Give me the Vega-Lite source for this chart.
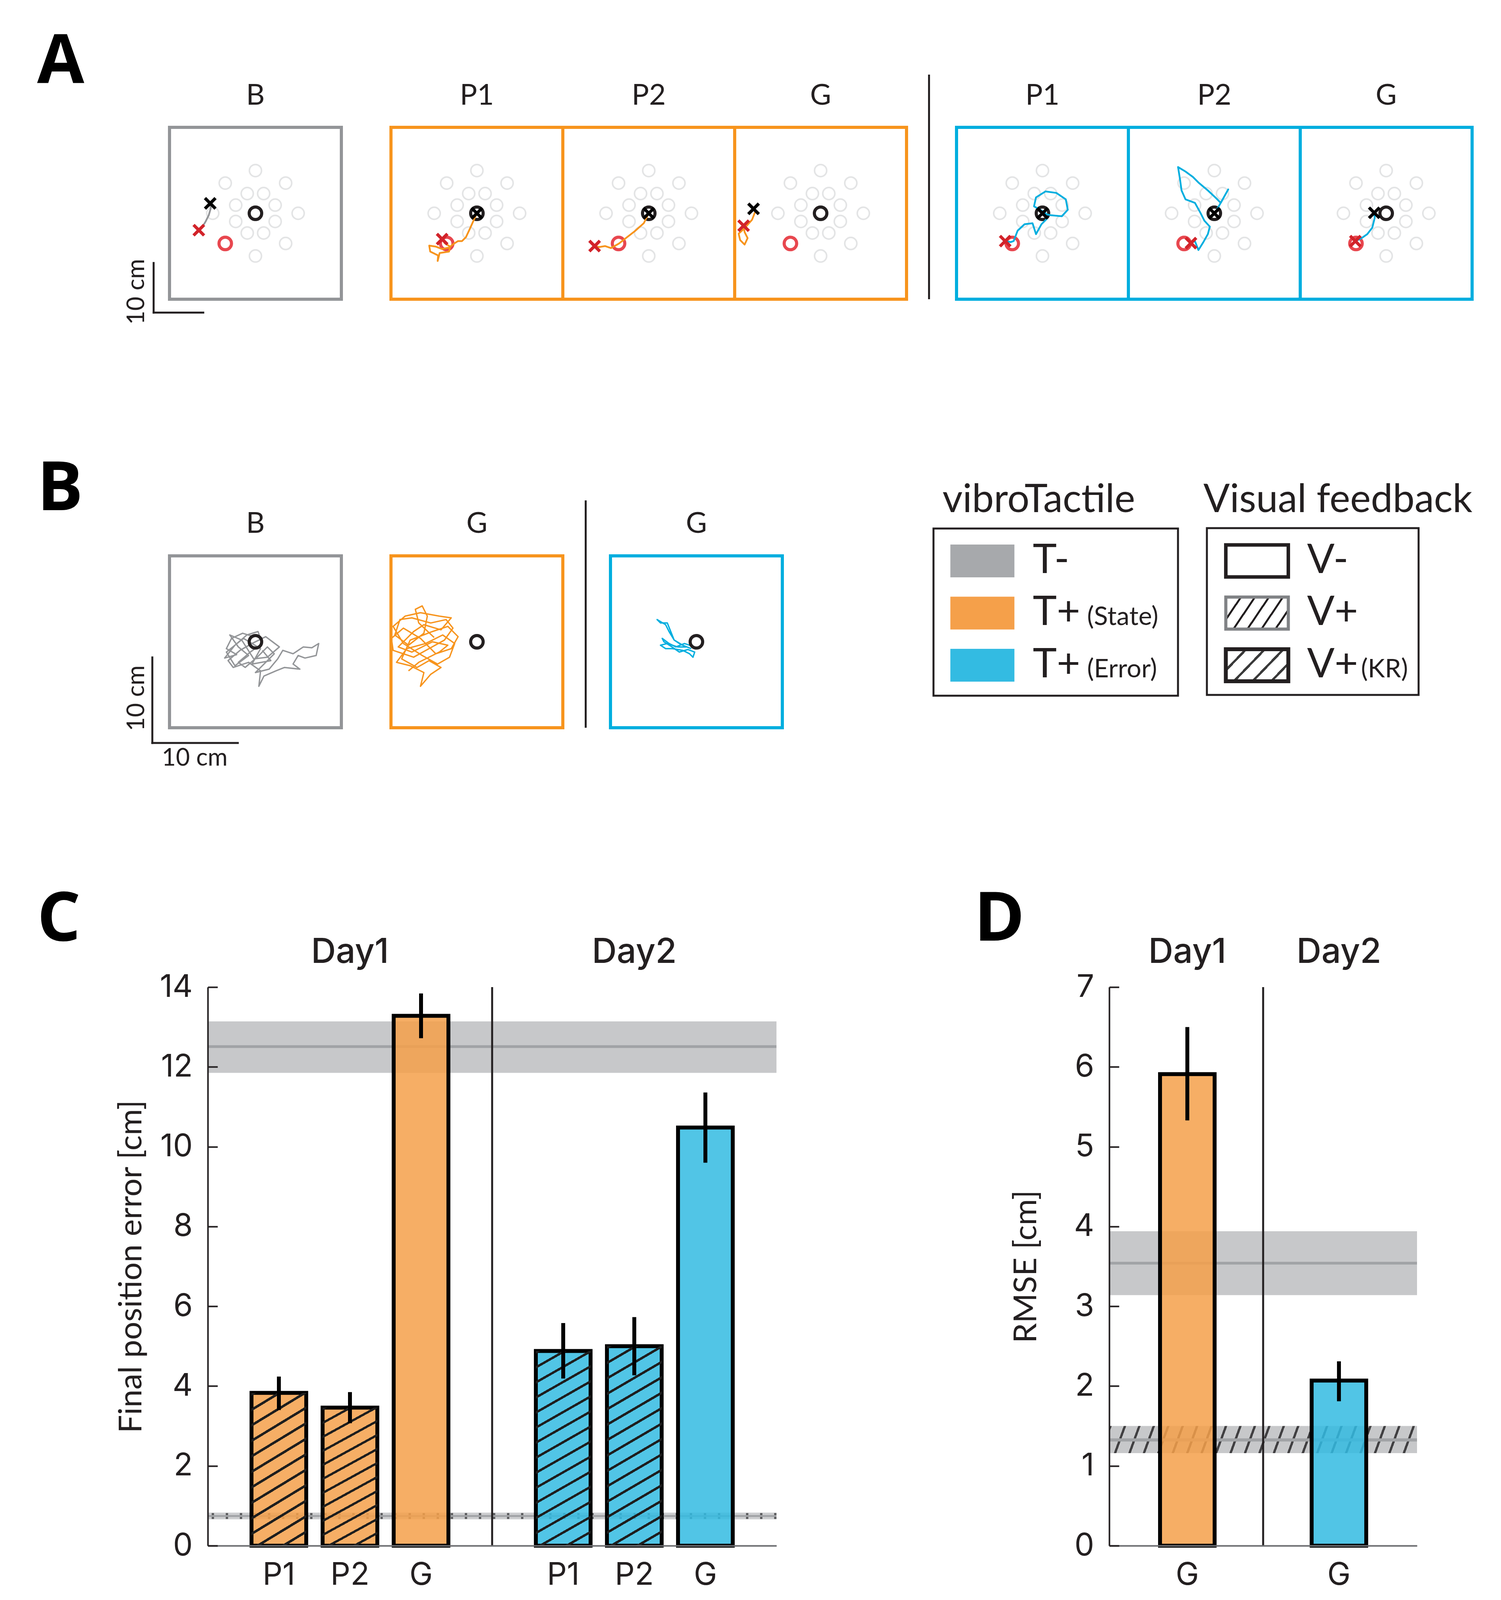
{
"$schema":"https://vega.github.io/schema/vega-lite/v6.json",
"background":"white",
"padding":{"left":95,"top":70,"right":30,"bottom":10},
"config":{"view":{"stroke":null},"concat":{"spacing":0},"font":"Lato","axis":{"grid":false}},
"datasets":{
"targets":[{"x":8.6,"y":0},{"x":6.08,"y":6.08},{"x":0,"y":8.6},{"x":-6.08,"y":6.08},{"x":-8.6,"y":0},{"x":-6.08,"y":-6.08},{"x":0,"y":-8.6},{"x":6.08,"y":-6.08},{"x":3.97,"y":1.65},{"x":1.65,"y":3.97},{"x":-1.65,"y":3.97},{"x":-3.97,"y":1.65},{"x":-3.97,"y":-1.65},{"x":-1.65,"y":-3.97},{"x":1.65,"y":-3.97},{"x":3.97,"y":-1.65}],
"fixedA":[{"k":"home","x":0,"y":0},{"k":"target","x":-6.08,"y":-6.08}],
"markA":[{"p":"B","k":"start","x":-9.1,"y":2.0},{"p":"B","k":"end","x":-11.4,"y":-3.4},{"p":"P1o","k":"start","x":0,"y":0},{"p":"P1o","k":"end","x":-7.0,"y":-5.2},{"p":"P2o","k":"start","x":0,"y":0},{"p":"P2o","k":"end","x":-10.9,"y":-6.6},{"p":"Go","k":"start","x":-13.5,"y":0.9},{"p":"Go","k":"end","x":-15.5,"y":-2.5},{"p":"P1b","k":"start","x":0,"y":0},{"p":"P1b","k":"end","x":-7.5,"y":-5.6},{"p":"P2b","k":"start","x":0,"y":0},{"p":"P2b","k":"end","x":-4.7,"y":-6.0},{"p":"Gb","k":"start","x":-2.4,"y":0.1},{"p":"Gb","k":"end","x":-6.2,"y":-5.6}],
"boxA":[{"p":"B","title":"B"},{"p":"P1o","title":"P1"},{"p":"P2o","title":"P2"},{"p":"Go","title":"G"},{"p":"P1b","title":"P1"},{"p":"P2b","title":"P2"},{"p":"Gb","title":"G"}],
"boxB":[{"p":"B","title":"B"},{"p":"Go","title":"G"},{"p":"Gb","title":"G"}],
"trajA":[
{"p":"B","i":0,"x":-9.1,"y":2.0},{"p":"B","i":1,"x":-9.0,"y":1.0},{"p":"B","i":2,"x":-9.4,"y":-0.4},{"p":"B","i":3,"x":-10.0,"y":-1.6},{"p":"B","i":4,"x":-10.6,"y":-2.6},{"p":"B","i":5,"x":-11.4,"y":-3.4},
{"p":"P1o","i":0,"x":0,"y":0},{"p":"P1o","i":1,"x":-0.6,"y":-1.3},{"p":"P1o","i":2,"x":-1.5,"y":-3.3},{"p":"P1o","i":3,"x":-2.2,"y":-4.8},{"p":"P1o","i":4,"x":-3.0,"y":-5.6},{"p":"P1o","i":5,"x":-3.8,"y":-5.6},{"p":"P1o","i":6,"x":-4.6,"y":-6.1},{"p":"P1o","i":7,"x":-5.6,"y":-6.9},{"p":"P1o","i":8,"x":-7.0,"y":-7.2},{"p":"P1o","i":9,"x":-8.3,"y":-6.7},{"p":"P1o","i":10,"x":-9.6,"y":-6.5},{"p":"P1o","i":11,"x":-9.4,"y":-7.7},{"p":"P1o","i":12,"x":-7.8,"y":-8.5},{"p":"P1o","i":13,"x":-7.9,"y":-9.6},{"p":"P1o","i":14,"x":-7.5,"y":-8.0},{"p":"P1o","i":15,"x":-5.6,"y":-7.7},{"p":"P1o","i":16,"x":-5.4,"y":-6.7},{"p":"P1o","i":17,"x":-6.5,"y":-6.0},{"p":"P1o","i":18,"x":-7.0,"y":-5.2},
{"p":"P2o","i":0,"x":0,"y":0},{"p":"P2o","i":1,"x":-1.0,"y":-2.0},{"p":"P2o","i":2,"x":-2.8,"y":-3.6},{"p":"P2o","i":3,"x":-4.6,"y":-5.0},{"p":"P2o","i":4,"x":-6.0,"y":-6.1},{"p":"P2o","i":5,"x":-7.6,"y":-7.0},{"p":"P2o","i":6,"x":-8.8,"y":-6.6},{"p":"P2o","i":7,"x":-10.0,"y":-6.8},{"p":"P2o","i":8,"x":-10.9,"y":-6.6},
{"p":"Go","i":0,"x":-13.5,"y":0.9},{"p":"Go","i":1,"x":-13.1,"y":0.5},{"p":"Go","i":2,"x":-13.8,"y":-1.3},{"p":"Go","i":3,"x":-15.3,"y":-3.0},{"p":"Go","i":4,"x":-16.5,"y":-4.1},{"p":"Go","i":5,"x":-16.2,"y":-5.4},{"p":"Go","i":6,"x":-15.3,"y":-6.3},{"p":"Go","i":7,"x":-14.7,"y":-5.0},{"p":"Go","i":8,"x":-15.3,"y":-3.8},{"p":"Go","i":9,"x":-15.5,"y":-2.5},
{"p":"P1b","i":0,"x":-7.5,"y":-5.6},{"p":"P1b","i":1,"x":-6.4,"y":-5.8},{"p":"P1b","i":2,"x":-5.8,"y":-5.6},{"p":"P1b","i":3,"x":-5.0,"y":-3.5},{"p":"P1b","i":4,"x":-3.6,"y":-2.2},{"p":"P1b","i":5,"x":-2.0,"y":-2.0},{"p":"P1b","i":6,"x":-1.3,"y":-4.2},{"p":"P1b","i":7,"x":-0.2,"y":-2.2},{"p":"P1b","i":8,"x":0.9,"y":-1.1},{"p":"P1b","i":9,"x":0.6,"y":0.1},{"p":"P1b","i":10,"x":-1.7,"y":1.4},{"p":"P1b","i":11,"x":-1.3,"y":3.2},{"p":"P1b","i":12,"x":0.6,"y":4.4},{"p":"P1b","i":13,"x":2.8,"y":4.1},{"p":"P1b","i":14,"x":4.7,"y":2.8},{"p":"P1b","i":15,"x":5.1,"y":0.7},{"p":"P1b","i":16,"x":3.9,"y":-0.6},{"p":"P1b","i":17,"x":1.7,"y":-0.4},{"p":"P1b","i":18,"x":0,"y":0},
{"p":"P2b","i":0,"x":0,"y":0},{"p":"P2b","i":1,"x":0.5,"y":0.7},{"p":"P2b","i":2,"x":2.8,"y":4.8},{"p":"P2b","i":3,"x":1.3,"y":2.1},{"p":"P2b","i":4,"x":0.2,"y":3.2},{"p":"P2b","i":5,"x":-1.3,"y":4.6},{"p":"P2b","i":6,"x":-3.2,"y":6.2},{"p":"P2b","i":7,"x":-4.3,"y":7.3},{"p":"P2b","i":8,"x":-5.8,"y":8.4},{"p":"P2b","i":9,"x":-7.3,"y":9.3},{"p":"P2b","i":10,"x":-6.9,"y":6.8},{"p":"P2b","i":11,"x":-6.6,"y":4.6},{"p":"P2b","i":12,"x":-5.8,"y":2.8},{"p":"P2b","i":13,"x":-3.9,"y":2.1},{"p":"P2b","i":14,"x":-2.8,"y":0.1},{"p":"P2b","i":15,"x":-2.0,"y":-1.5},{"p":"P2b","i":16,"x":-0.9,"y":-2.7},{"p":"P2b","i":17,"x":-1.3,"y":-4.2},{"p":"P2b","i":18,"x":-2.2,"y":-5.8},{"p":"P2b","i":19,"x":-3.2,"y":-7.4},{"p":"P2b","i":20,"x":-3.9,"y":-5.6},{"p":"P2b","i":21,"x":-4.7,"y":-6.0},
{"p":"Gb","i":0,"x":-2.4,"y":0.1},{"p":"Gb","i":1,"x":-2.3,"y":-0.9},{"p":"Gb","i":2,"x":-2.8,"y":-2.9},{"p":"Gb","i":3,"x":-3.8,"y":-4.2},{"p":"Gb","i":4,"x":-5.1,"y":-5.1},{"p":"Gb","i":5,"x":-6.2,"y":-5.6}],
"trajB":[
{"p":"B","i":0,"x":-0.2,"y":0.6},{"p":"B","i":1,"x":-1.5,"y":1.0},{"p":"B","i":2,"x":-2.8,"y":0.4},{"p":"B","i":3,"x":-3.4,"y":-0.8},{"p":"B","i":4,"x":-2.2,"y":-1.5},{"p":"B","i":5,"x":-3.6,"y":-1.9},{"p":"B","i":6,"x":-2.4,"y":-0.4},{"p":"B","i":7,"x":-1.0,"y":0.8},{"p":"B","i":8,"x":0.3,"y":1.2},{"p":"B","i":9,"x":0.8,"y":-0.2},{"p":"B","i":10,"x":-0.6,"y":-1.2},{"p":"B","i":11,"x":-2.0,"y":-2.4},{"p":"B","i":12,"x":-1.2,"y":-3.0},{"p":"B","i":13,"x":0.2,"y":-1.8},{"p":"B","i":14,"x":1.4,"y":-0.6},{"p":"B","i":15,"x":2.2,"y":-1.4},{"p":"B","i":16,"x":1.0,"y":-2.6},{"p":"B","i":17,"x":0.0,"y":-3.6},{"p":"B","i":18,"x":1.6,"y":-3.2},{"p":"B","i":19,"x":2.6,"y":-2.0},{"p":"B","i":20,"x":3.2,"y":-1.0},{"p":"B","i":21,"x":4.4,"y":-1.4},{"p":"B","i":22,"x":5.6,"y":-0.6},{"p":"B","i":23,"x":6.6,"y":-0.7},{"p":"B","i":24,"x":7.4,"y":-0.2},{"p":"B","i":25,"x":7.1,"y":-1.6},{"p":"B","i":26,"x":5.8,"y":-1.9},{"p":"B","i":27,"x":5.0,"y":-1.6},{"p":"B","i":28,"x":4.4,"y":-2.6},{"p":"B","i":29,"x":5.2,"y":-3.2},{"p":"B","i":30,"x":3.4,"y":-3.0},{"p":"B","i":31,"x":2.4,"y":-3.4},{"p":"B","i":32,"x":1.0,"y":-4.0},{"p":"B","i":33,"x":0.4,"y":-5.2},{"p":"B","i":34,"x":0.6,"y":-3.4},{"p":"B","i":35,"x":-0.8,"y":-2.4},{"p":"B","i":36,"x":-2.6,"y":-3.0},{"p":"B","i":37,"x":-3.2,"y":-2.2},{"p":"B","i":38,"x":-1.8,"y":-1.0},{"p":"B","i":39,"x":-0.4,"y":-0.2},{"p":"B","i":40,"x":1.2,"y":0.6},{"p":"B","i":41,"x":2.0,"y":0.0},{"p":"B","i":42,"x":2.8,"y":-0.6},{"p":"B","i":43,"x":1.4,"y":-1.8},{"p":"B","i":44,"x":-0.2,"y":-2.0},{"p":"B","i":45,"x":-1.6,"y":0.2},{"p":"B","i":46,"x":-3.0,"y":0.8},{"p":"B","i":47,"x":-2.0,"y":-0.6},{"p":"B","i":48,"x":-0.8,"y":-1.6},{"p":"B","i":49,"x":-2.4,"y":-2.8},{"p":"B","i":50,"x":-3.4,"y":-1.2},{"p":"B","i":51,"x":-1.4,"y":0.4},{"p":"B","i":52,"x":0.6,"y":-0.8},{"p":"B","i":53,"x":-0.4,"y":-2.6},{"p":"B","i":54,"x":1.8,"y":-2.2},{"p":"B","i":55,"x":0.8,"y":-1.0},
{"p":"Go","i":0,"x":-5.0,"y":0.5},{"p":"Go","i":1,"x":-6.8,"y":2.2},{"p":"Go","i":2,"x":-7.2,"y":3.8},{"p":"Go","i":3,"x":-6.4,"y":4.2},{"p":"Go","i":4,"x":-5.8,"y":3.0},{"p":"Go","i":5,"x":-6.2,"y":1.0},{"p":"Go","i":6,"x":-8.0,"y":-0.4},{"p":"Go","i":7,"x":-9.6,"y":0.8},{"p":"Go","i":8,"x":-9.0,"y":2.6},{"p":"Go","i":9,"x":-7.6,"y":2.8},{"p":"Go","i":10,"x":-5.4,"y":2.2},{"p":"Go","i":11,"x":-3.6,"y":2.6},{"p":"Go","i":12,"x":-2.8,"y":1.6},{"p":"Go","i":13,"x":-3.8,"y":0.2},{"p":"Go","i":14,"x":-5.6,"y":-0.8},{"p":"Go","i":15,"x":-7.4,"y":-1.8},{"p":"Go","i":16,"x":-9.8,"y":-1.0},{"p":"Go","i":17,"x":-10.0,"y":0.4},{"p":"Go","i":18,"x":-8.6,"y":1.6},{"p":"Go","i":19,"x":-6.6,"y":0.4},{"p":"Go","i":20,"x":-4.8,"y":-1.4},{"p":"Go","i":21,"x":-3.0,"y":-0.8},{"p":"Go","i":22,"x":-2.2,"y":0.6},{"p":"Go","i":23,"x":-3.4,"y":1.8},{"p":"Go","i":24,"x":-5.2,"y":1.2},{"p":"Go","i":25,"x":-7.8,"y":0.2},{"p":"Go","i":26,"x":-8.8,"y":-2.0},{"p":"Go","i":27,"x":-7.0,"y":-3.0},{"p":"Go","i":28,"x":-5.6,"y":-2.2},{"p":"Go","i":29,"x":-4.2,"y":-3.0},{"p":"Go","i":30,"x":-5.4,"y":-3.8},{"p":"Go","i":31,"x":-6.6,"y":-5.2},{"p":"Go","i":32,"x":-6.2,"y":-3.6},{"p":"Go","i":33,"x":-7.8,"y":-2.8},{"p":"Go","i":34,"x":-9.4,"y":-2.4},{"p":"Go","i":35,"x":-8.2,"y":-0.8},{"p":"Go","i":36,"x":-6.0,"y":-0.2},{"p":"Go","i":37,"x":-4.0,"y":0.8},{"p":"Go","i":38,"x":-2.6,"y":-0.2},{"p":"Go","i":39,"x":-3.2,"y":-1.8},{"p":"Go","i":40,"x":-4.6,"y":-2.6},{"p":"Go","i":41,"x":-6.4,"y":-1.6},{"p":"Go","i":42,"x":-8.6,"y":-0.2},{"p":"Go","i":43,"x":-9.8,"y":1.8},{"p":"Go","i":44,"x":-8.4,"y":3.0},{"p":"Go","i":45,"x":-6.6,"y":3.4},{"p":"Go","i":46,"x":-4.4,"y":3.0},{"p":"Go","i":47,"x":-3.0,"y":2.8},{"p":"Go","i":48,"x":-4.2,"y":1.4},{"p":"Go","i":49,"x":-6.2,"y":2.0},{"p":"Go","i":50,"x":-7.4,"y":1.2},{"p":"Go","i":51,"x":-9.2,"y":-0.6},{"p":"Go","i":52,"x":-7.6,"y":-1.2},{"p":"Go","i":53,"x":-5.2,"y":0.0},{"p":"Go","i":54,"x":-3.4,"y":-0.4},{"p":"Go","i":55,"x":-4.4,"y":-1.2},{"p":"Go","i":56,"x":-6.8,"y":-2.4},{"p":"Go","i":57,"x":-8.0,"y":-3.4},
{"p":"Gb","i":0,"x":-0.6,"y":-0.8},{"p":"Gb","i":1,"x":-1.6,"y":-0.4},{"p":"Gb","i":2,"x":-2.6,"y":0.2},{"p":"Gb","i":3,"x":-3.2,"y":1.2},{"p":"Gb","i":4,"x":-3.6,"y":2.0},{"p":"Gb","i":5,"x":-4.6,"y":2.6},{"p":"Gb","i":6,"x":-4.2,"y":2.2},{"p":"Gb","i":7,"x":-3.4,"y":2.2},{"p":"Gb","i":8,"x":-3.0,"y":1.2},{"p":"Gb","i":9,"x":-2.6,"y":0.2},{"p":"Gb","i":10,"x":-2.0,"y":-0.2},{"p":"Gb","i":11,"x":-1.2,"y":-0.6},{"p":"Gb","i":12,"x":-2.2,"y":-0.6},{"p":"Gb","i":13,"x":-3.4,"y":-0.2},{"p":"Gb","i":14,"x":-4.2,"y":-0.4},{"p":"Gb","i":15,"x":-3.6,"y":-0.8},{"p":"Gb","i":16,"x":-2.8,"y":-0.8},{"p":"Gb","i":17,"x":-1.6,"y":-1.0},{"p":"Gb","i":18,"x":-0.8,"y":-1.4},{"p":"Gb","i":19,"x":-0.4,"y":-1.8},{"p":"Gb","i":20,"x":-0.2,"y":-1.2},{"p":"Gb","i":21,"x":-1.0,"y":-0.9},{"p":"Gb","i":22,"x":-2.0,"y":-1.2},{"p":"Gb","i":23,"x":-3.0,"y":-0.5},{"p":"Gb","i":24,"x":-3.8,"y":0.0},{"p":"Gb","i":25,"x":-4.0,"y":0.4},{"p":"Gb","i":26,"x":-3.2,"y":-0.2},{"p":"Gb","i":27,"x":-2.4,"y":-0.6},{"p":"Gb","i":28,"x":-1.4,"y":-0.2},{"p":"Gb","i":29,"x":-0.5,"y":-0.5}],
"barsC":[{"key":"P1_1","day":"Day1","tactile":"T+ (State)","visual":"V+ (KR)","mean":3.83,"lo":3.40,"hi":4.24},{"key":"P2_1","day":"Day1","tactile":"T+ (State)","visual":"V+ (KR)","mean":3.46,"lo":3.07,"hi":3.85},{"key":"G_1","day":"Day1","tactile":"T+ (State)","visual":"V-","mean":13.28,"lo":12.72,"hi":13.84},{"key":"P1_2","day":"Day2","tactile":"T+ (Error)","visual":"V+ (KR)","mean":4.88,"lo":4.19,"hi":5.58},{"key":"P2_2","day":"Day2","tactile":"T+ (Error)","visual":"V+ (KR)","mean":5.00,"lo":4.27,"hi":5.73},{"key":"G_2","day":"Day2","tactile":"T+ (Error)","visual":"V-","mean":10.48,"lo":9.60,"hi":11.36}],
"bandC":[{"k":"T- V-","lo":11.85,"mid":12.51,"hi":13.14},{"k":"T- V+","lo":0.66,"mid":0.745,"hi":0.83}],
"barsD":[{"key":"G_1","day":"Day1","tactile":"T+ (State)","mean":5.91,"lo":5.33,"hi":6.50},{"key":"G_2","day":"Day2","tactile":"T+ (Error)","mean":2.07,"lo":1.81,"hi":2.31}],
"bandD":[{"k":"T- V-","lo":3.14,"mid":3.54,"hi":3.94},{"k":"T- V+","lo":1.16,"mid":1.325,"hi":1.50}],
"legendVT":[{"name":"T-","main":"T-","sub":""},{"name":"T+ (State)","main":"T+","sub":"(State)"},{"name":"T+ (Error)","main":"T+","sub":"(Error)"}],
"legendVF":[{"name":"V-","main":"V-","sub":""},{"name":"V+","main":"V+","sub":""},{"name":"V+ (KR)","main":"V+","sub":"(KR)"}]
},
"spacing":0,"bounds":"full",
"vconcat":[
{"spacing":0,"bounds":"flush","hconcat":[
 {"width":339,"height":440,"layer":[
  {"data":{"values":[{"t":"A"}]},"mark":{"type":"text","align":"left","baseline":"top","font":"Open Sans","fontSize":175,"fontWeight":"bold","color":"#000000"},"encoding":{"text":{"field":"t"},"x":{"datum":0,"type":"quantitative","scale":{"domain":[0,1]},"axis":null},"y":{"datum":1.57045,"type":"quantitative","scale":{"domain":[0,1]},"axis":null}}},
  {"data":{"values":[{}]},"mark":{"type":"rule","opacity":0},"encoding":{"x":{"datum":0,"type":"quantitative","scale":{"domain":[0,1]},"axis":null},"y":{"datum":1.57955,"type":"quantitative","scale":{"domain":[0,1]},"axis":null},"y2":{"datum":-0.27273}}}
 ]},
 {"width":440,"height":440,"layer":[
  {"data":{"values":[{}]},"mark":{"type":"rect","fill":"#FFFFFF","fillOpacity":0,"stroke":"#939598","strokeWidth":8},"encoding":{"x":{"datum":-17.3,"type":"quantitative","scale":{"domain":[-17.3,17.3],"nice":false,"zero":false},"axis":null},"x2":{"datum":17.3},"y":{"datum":-17.3,"type":"quantitative","scale":{"domain":[-17.3,17.3],"nice":false,"zero":false},"axis":null},"y2":{"datum":17.3}}},
  {"data":{"name":"targets"},"mark":{"type":"point","shape":"circle","size":961,"filled":false,"stroke":"#E3E4E5","strokeWidth":4,"opacity":1},"encoding":{"x":{"field":"x","type":"quantitative","scale":{"domain":[-17.3,17.3],"nice":false,"zero":false},"axis":null},"y":{"field":"y","type":"quantitative","scale":{"domain":[-17.3,17.3],"nice":false,"zero":false},"axis":null}}},
  {"data":{"name":"fixedA"},"transform":[{"filter":"datum.k==='target'"}],"mark":{"type":"point","shape":"circle","size":1024,"filled":false,"stroke":"#E8474F","strokeWidth":8,"opacity":1},"encoding":{"x":{"field":"x","type":"quantitative","scale":{"domain":[-17.3,17.3],"nice":false,"zero":false},"axis":null},"y":{"field":"y","type":"quantitative","scale":{"domain":[-17.3,17.3],"nice":false,"zero":false},"axis":null}}},
  {"data":{"name":"fixedA"},"transform":[{"filter":"datum.k==='home'"}],"mark":{"type":"point","shape":"circle","size":1024,"filled":false,"stroke":"#231F20","strokeWidth":8,"opacity":1},"encoding":{"x":{"field":"x","type":"quantitative","scale":{"domain":[-17.3,17.3],"nice":false,"zero":false},"axis":null},"y":{"field":"y","type":"quantitative","scale":{"domain":[-17.3,17.3],"nice":false,"zero":false},"axis":null}}},
  {"data":{"name":"trajA"},"transform":[{"filter":"datum.p==='B'"}],"mark":{"type":"line","color":"#939598","strokeWidth":4.5,"strokeJoin":"round","strokeCap":"round"},"encoding":{"x":{"field":"x","type":"quantitative","scale":{"domain":[-17.3,17.3],"nice":false,"zero":false},"axis":null},"y":{"field":"y","type":"quantitative","scale":{"domain":[-17.3,17.3],"nice":false,"zero":false},"axis":null},"order":{"field":"i","type":"quantitative"}}},
  {"data":{"name":"markA"},"transform":[{"filter":"datum.p==='B' && datum.k==='start'"}],"mark":{"type":"point","shape":"M-1,-1L1,1M1,-1L-1,1","size":729,"filled":false,"stroke":"#000000","strokeWidth":8,"opacity":1},"encoding":{"x":{"field":"x","type":"quantitative","scale":{"domain":[-17.3,17.3],"nice":false,"zero":false},"axis":null},"y":{"field":"y","type":"quantitative","scale":{"domain":[-17.3,17.3],"nice":false,"zero":false},"axis":null}}},
  {"data":{"name":"markA"},"transform":[{"filter":"datum.p==='B' && datum.k==='end'"}],"mark":{"type":"point","shape":"M-1,-1L1,1M1,-1L-1,1","size":729,"filled":false,"stroke":"#D2232A","strokeWidth":8,"opacity":1},"encoding":{"x":{"field":"x","type":"quantitative","scale":{"domain":[-17.3,17.3],"nice":false,"zero":false},"axis":null},"y":{"field":"y","type":"quantitative","scale":{"domain":[-17.3,17.3],"nice":false,"zero":false},"axis":null}}},
  {"data":{"values":[{}]},"mark":{"type":"rule","color":"#231F20","strokeWidth":5,"strokeCap":"square"},"encoding":{"x":{"datum":-20.5,"type":"quantitative","scale":{"domain":[-17.3,17.3],"nice":false,"zero":false},"axis":null},"y":{"datum":-20.0,"type":"quantitative","scale":{"domain":[-17.3,17.3],"nice":false,"zero":false},"axis":null},"y2":{"datum":-10.0}}},
  {"data":{"values":[{}]},"mark":{"type":"rule","color":"#231F20","strokeWidth":5,"strokeCap":"square"},"encoding":{"x":{"datum":-20.5,"type":"quantitative","scale":{"domain":[-17.3,17.3],"nice":false,"zero":false},"axis":null},"x2":{"datum":-10.5},"y":{"datum":-20.0,"type":"quantitative","scale":{"domain":[-17.3,17.3],"nice":false,"zero":false},"axis":null}}},
  {"data":{"values":[{}]},"mark":{"type":"text","angle":270,"font":"Lato","fontSize":62,"color":"#231F20","align":"center","baseline":"middle"},"encoding":{"x":{"datum":-23.9,"type":"quantitative","scale":{"domain":[-17.3,17.3],"nice":false,"zero":false},"axis":null},"y":{"datum":-15.8,"type":"quantitative","scale":{"domain":[-17.3,17.3],"nice":false,"zero":false},"axis":null},"text":{"value":"10 cm"}}},
  {"data":{"name":"boxA"},"transform":[{"filter":"datum.p==='B'"}],"mark":{"type":"text","font":"Lato","fontSize":74,"color":"#231F20","align":"center","baseline":"alphabetic"},"encoding":{"text":{"field":"title"},"x":{"datum":0,"type":"quantitative","scale":{"domain":[-17.3,17.3],"nice":false,"zero":false},"axis":null},"y":{"datum":21.86,"type":"quantitative","scale":{"domain":[-17.3,17.3],"nice":false,"zero":false},"axis":null}}}
 ]},
 {"width":127,"height":440,"data":{"values":[{}]},"mark":"text","encoding":{"text":{"value":""}}},
 {"width":440,"height":440,"layer":[
  {"data":{"values":[{}]},"mark":{"type":"rect","fill":"#FFFFFF","fillOpacity":0,"stroke":"#F7941D","strokeWidth":8},"encoding":{"x":{"datum":-17.3,"type":"quantitative","scale":{"domain":[-17.3,17.3],"nice":false,"zero":false},"axis":null},"x2":{"datum":17.3},"y":{"datum":-17.3,"type":"quantitative","scale":{"domain":[-17.3,17.3],"nice":false,"zero":false},"axis":null},"y2":{"datum":17.3}}},
  {"data":{"name":"targets"},"mark":{"type":"point","shape":"circle","size":961,"filled":false,"stroke":"#E3E4E5","strokeWidth":4,"opacity":1},"encoding":{"x":{"field":"x","type":"quantitative","scale":{"domain":[-17.3,17.3],"nice":false,"zero":false},"axis":null},"y":{"field":"y","type":"quantitative","scale":{"domain":[-17.3,17.3],"nice":false,"zero":false},"axis":null}}},
  {"data":{"name":"fixedA"},"transform":[{"filter":"datum.k==='target'"}],"mark":{"type":"point","shape":"circle","size":1024,"filled":false,"stroke":"#E8474F","strokeWidth":8,"opacity":1},"encoding":{"x":{"field":"x","type":"quantitative","scale":{"domain":[-17.3,17.3],"nice":false,"zero":false},"axis":null},"y":{"field":"y","type":"quantitative","scale":{"domain":[-17.3,17.3],"nice":false,"zero":false},"axis":null}}},
  {"data":{"name":"fixedA"},"transform":[{"filter":"datum.k==='home'"}],"mark":{"type":"point","shape":"circle","size":1024,"filled":false,"stroke":"#231F20","strokeWidth":8,"opacity":1},"encoding":{"x":{"field":"x","type":"quantitative","scale":{"domain":[-17.3,17.3],"nice":false,"zero":false},"axis":null},"y":{"field":"y","type":"quantitative","scale":{"domain":[-17.3,17.3],"nice":false,"zero":false},"axis":null}}},
  {"data":{"name":"trajA"},"transform":[{"filter":"datum.p==='P1o'"}],"mark":{"type":"line","color":"#F7941D","strokeWidth":4.5,"strokeJoin":"round","strokeCap":"round"},"encoding":{"x":{"field":"x","type":"quantitative","scale":{"domain":[-17.3,17.3],"nice":false,"zero":false},"axis":null},"y":{"field":"y","type":"quantitative","scale":{"domain":[-17.3,17.3],"nice":false,"zero":false},"axis":null},"order":{"field":"i","type":"quantitative"}}},
  {"data":{"name":"markA"},"transform":[{"filter":"datum.p==='P1o' && datum.k==='start'"}],"mark":{"type":"point","shape":"M-1,-1L1,1M1,-1L-1,1","size":729,"filled":false,"stroke":"#000000","strokeWidth":8,"opacity":1},"encoding":{"x":{"field":"x","type":"quantitative","scale":{"domain":[-17.3,17.3],"nice":false,"zero":false},"axis":null},"y":{"field":"y","type":"quantitative","scale":{"domain":[-17.3,17.3],"nice":false,"zero":false},"axis":null}}},
  {"data":{"name":"markA"},"transform":[{"filter":"datum.p==='P1o' && datum.k==='end'"}],"mark":{"type":"point","shape":"M-1,-1L1,1M1,-1L-1,1","size":729,"filled":false,"stroke":"#D2232A","strokeWidth":8,"opacity":1},"encoding":{"x":{"field":"x","type":"quantitative","scale":{"domain":[-17.3,17.3],"nice":false,"zero":false},"axis":null},"y":{"field":"y","type":"quantitative","scale":{"domain":[-17.3,17.3],"nice":false,"zero":false},"axis":null}}},
  {"data":{"name":"boxA"},"transform":[{"filter":"datum.p==='P1o'"}],"mark":{"type":"text","font":"Lato","fontSize":74,"color":"#231F20","align":"center","baseline":"alphabetic"},"encoding":{"text":{"field":"title"},"x":{"datum":0,"type":"quantitative","scale":{"domain":[-17.3,17.3],"nice":false,"zero":false},"axis":null},"y":{"datum":21.86,"type":"quantitative","scale":{"domain":[-17.3,17.3],"nice":false,"zero":false},"axis":null}}}
 ]},
 {"width":440,"height":440,"layer":[
  {"data":{"values":[{}]},"mark":{"type":"rect","fill":"#FFFFFF","fillOpacity":0,"stroke":"#F7941D","strokeWidth":8},"encoding":{"x":{"datum":-17.3,"type":"quantitative","scale":{"domain":[-17.3,17.3],"nice":false,"zero":false},"axis":null},"x2":{"datum":17.3},"y":{"datum":-17.3,"type":"quantitative","scale":{"domain":[-17.3,17.3],"nice":false,"zero":false},"axis":null},"y2":{"datum":17.3}}},
  {"data":{"name":"targets"},"mark":{"type":"point","shape":"circle","size":961,"filled":false,"stroke":"#E3E4E5","strokeWidth":4,"opacity":1},"encoding":{"x":{"field":"x","type":"quantitative","scale":{"domain":[-17.3,17.3],"nice":false,"zero":false},"axis":null},"y":{"field":"y","type":"quantitative","scale":{"domain":[-17.3,17.3],"nice":false,"zero":false},"axis":null}}},
  {"data":{"name":"fixedA"},"transform":[{"filter":"datum.k==='target'"}],"mark":{"type":"point","shape":"circle","size":1024,"filled":false,"stroke":"#E8474F","strokeWidth":8,"opacity":1},"encoding":{"x":{"field":"x","type":"quantitative","scale":{"domain":[-17.3,17.3],"nice":false,"zero":false},"axis":null},"y":{"field":"y","type":"quantitative","scale":{"domain":[-17.3,17.3],"nice":false,"zero":false},"axis":null}}},
  {"data":{"name":"fixedA"},"transform":[{"filter":"datum.k==='home'"}],"mark":{"type":"point","shape":"circle","size":1024,"filled":false,"stroke":"#231F20","strokeWidth":8,"opacity":1},"encoding":{"x":{"field":"x","type":"quantitative","scale":{"domain":[-17.3,17.3],"nice":false,"zero":false},"axis":null},"y":{"field":"y","type":"quantitative","scale":{"domain":[-17.3,17.3],"nice":false,"zero":false},"axis":null}}},
  {"data":{"name":"trajA"},"transform":[{"filter":"datum.p==='P2o'"}],"mark":{"type":"line","color":"#F7941D","strokeWidth":4.5,"strokeJoin":"round","strokeCap":"round"},"encoding":{"x":{"field":"x","type":"quantitative","scale":{"domain":[-17.3,17.3],"nice":false,"zero":false},"axis":null},"y":{"field":"y","type":"quantitative","scale":{"domain":[-17.3,17.3],"nice":false,"zero":false},"axis":null},"order":{"field":"i","type":"quantitative"}}},
  {"data":{"name":"markA"},"transform":[{"filter":"datum.p==='P2o' && datum.k==='start'"}],"mark":{"type":"point","shape":"M-1,-1L1,1M1,-1L-1,1","size":729,"filled":false,"stroke":"#000000","strokeWidth":8,"opacity":1},"encoding":{"x":{"field":"x","type":"quantitative","scale":{"domain":[-17.3,17.3],"nice":false,"zero":false},"axis":null},"y":{"field":"y","type":"quantitative","scale":{"domain":[-17.3,17.3],"nice":false,"zero":false},"axis":null}}},
  {"data":{"name":"markA"},"transform":[{"filter":"datum.p==='P2o' && datum.k==='end'"}],"mark":{"type":"point","shape":"M-1,-1L1,1M1,-1L-1,1","size":729,"filled":false,"stroke":"#D2232A","strokeWidth":8,"opacity":1},"encoding":{"x":{"field":"x","type":"quantitative","scale":{"domain":[-17.3,17.3],"nice":false,"zero":false},"axis":null},"y":{"field":"y","type":"quantitative","scale":{"domain":[-17.3,17.3],"nice":false,"zero":false},"axis":null}}},
  {"data":{"name":"boxA"},"transform":[{"filter":"datum.p==='P2o'"}],"mark":{"type":"text","font":"Lato","fontSize":74,"color":"#231F20","align":"center","baseline":"alphabetic"},"encoding":{"text":{"field":"title"},"x":{"datum":0,"type":"quantitative","scale":{"domain":[-17.3,17.3],"nice":false,"zero":false},"axis":null},"y":{"datum":21.86,"type":"quantitative","scale":{"domain":[-17.3,17.3],"nice":false,"zero":false},"axis":null}}}
 ]},
 {"width":440,"height":440,"layer":[
  {"data":{"values":[{}]},"mark":{"type":"rect","fill":"#FFFFFF","fillOpacity":0,"stroke":"#F7941D","strokeWidth":8},"encoding":{"x":{"datum":-17.3,"type":"quantitative","scale":{"domain":[-17.3,17.3],"nice":false,"zero":false},"axis":null},"x2":{"datum":17.3},"y":{"datum":-17.3,"type":"quantitative","scale":{"domain":[-17.3,17.3],"nice":false,"zero":false},"axis":null},"y2":{"datum":17.3}}},
  {"data":{"name":"targets"},"mark":{"type":"point","shape":"circle","size":961,"filled":false,"stroke":"#E3E4E5","strokeWidth":4,"opacity":1},"encoding":{"x":{"field":"x","type":"quantitative","scale":{"domain":[-17.3,17.3],"nice":false,"zero":false},"axis":null},"y":{"field":"y","type":"quantitative","scale":{"domain":[-17.3,17.3],"nice":false,"zero":false},"axis":null}}},
  {"data":{"name":"fixedA"},"transform":[{"filter":"datum.k==='target'"}],"mark":{"type":"point","shape":"circle","size":1024,"filled":false,"stroke":"#E8474F","strokeWidth":8,"opacity":1},"encoding":{"x":{"field":"x","type":"quantitative","scale":{"domain":[-17.3,17.3],"nice":false,"zero":false},"axis":null},"y":{"field":"y","type":"quantitative","scale":{"domain":[-17.3,17.3],"nice":false,"zero":false},"axis":null}}},
  {"data":{"name":"fixedA"},"transform":[{"filter":"datum.k==='home'"}],"mark":{"type":"point","shape":"circle","size":1024,"filled":false,"stroke":"#231F20","strokeWidth":8,"opacity":1},"encoding":{"x":{"field":"x","type":"quantitative","scale":{"domain":[-17.3,17.3],"nice":false,"zero":false},"axis":null},"y":{"field":"y","type":"quantitative","scale":{"domain":[-17.3,17.3],"nice":false,"zero":false},"axis":null}}},
  {"data":{"name":"trajA"},"transform":[{"filter":"datum.p==='Go'"}],"mark":{"type":"line","color":"#F7941D","strokeWidth":4.5,"strokeJoin":"round","strokeCap":"round"},"encoding":{"x":{"field":"x","type":"quantitative","scale":{"domain":[-17.3,17.3],"nice":false,"zero":false},"axis":null},"y":{"field":"y","type":"quantitative","scale":{"domain":[-17.3,17.3],"nice":false,"zero":false},"axis":null},"order":{"field":"i","type":"quantitative"}}},
  {"data":{"name":"markA"},"transform":[{"filter":"datum.p==='Go' && datum.k==='start'"}],"mark":{"type":"point","shape":"M-1,-1L1,1M1,-1L-1,1","size":729,"filled":false,"stroke":"#000000","strokeWidth":8,"opacity":1},"encoding":{"x":{"field":"x","type":"quantitative","scale":{"domain":[-17.3,17.3],"nice":false,"zero":false},"axis":null},"y":{"field":"y","type":"quantitative","scale":{"domain":[-17.3,17.3],"nice":false,"zero":false},"axis":null}}},
  {"data":{"name":"markA"},"transform":[{"filter":"datum.p==='Go' && datum.k==='end'"}],"mark":{"type":"point","shape":"M-1,-1L1,1M1,-1L-1,1","size":729,"filled":false,"stroke":"#D2232A","strokeWidth":8,"opacity":1},"encoding":{"x":{"field":"x","type":"quantitative","scale":{"domain":[-17.3,17.3],"nice":false,"zero":false},"axis":null},"y":{"field":"y","type":"quantitative","scale":{"domain":[-17.3,17.3],"nice":false,"zero":false},"axis":null}}},
  {"data":{"name":"boxA"},"transform":[{"filter":"datum.p==='Go'"}],"mark":{"type":"text","font":"Lato","fontSize":74,"color":"#231F20","align":"center","baseline":"alphabetic"},"encoding":{"text":{"field":"title"},"x":{"datum":0,"type":"quantitative","scale":{"domain":[-17.3,17.3],"nice":false,"zero":false},"axis":null},"y":{"datum":21.86,"type":"quantitative","scale":{"domain":[-17.3,17.3],"nice":false,"zero":false},"axis":null}}}
 ]},
 {"width":128,"height":440,"data":{"values":[{}]},"mark":{"type":"rule","color":"#231F20","strokeWidth":5},"encoding":{"x":{"datum":0.45,"type":"quantitative","scale":{"domain":[0,1]},"axis":null},"y":{"datum":0,"type":"quantitative","scale":{"domain":[0,1]},"axis":null},"y2":{"datum":1.307}}},
 {"width":440,"height":440,"layer":[
  {"data":{"values":[{}]},"mark":{"type":"rect","fill":"#FFFFFF","fillOpacity":0,"stroke":"#00AEDF","strokeWidth":8},"encoding":{"x":{"datum":-17.3,"type":"quantitative","scale":{"domain":[-17.3,17.3],"nice":false,"zero":false},"axis":null},"x2":{"datum":17.3},"y":{"datum":-17.3,"type":"quantitative","scale":{"domain":[-17.3,17.3],"nice":false,"zero":false},"axis":null},"y2":{"datum":17.3}}},
  {"data":{"name":"targets"},"mark":{"type":"point","shape":"circle","size":961,"filled":false,"stroke":"#E3E4E5","strokeWidth":4,"opacity":1},"encoding":{"x":{"field":"x","type":"quantitative","scale":{"domain":[-17.3,17.3],"nice":false,"zero":false},"axis":null},"y":{"field":"y","type":"quantitative","scale":{"domain":[-17.3,17.3],"nice":false,"zero":false},"axis":null}}},
  {"data":{"name":"fixedA"},"transform":[{"filter":"datum.k==='target'"}],"mark":{"type":"point","shape":"circle","size":1024,"filled":false,"stroke":"#E8474F","strokeWidth":8,"opacity":1},"encoding":{"x":{"field":"x","type":"quantitative","scale":{"domain":[-17.3,17.3],"nice":false,"zero":false},"axis":null},"y":{"field":"y","type":"quantitative","scale":{"domain":[-17.3,17.3],"nice":false,"zero":false},"axis":null}}},
  {"data":{"name":"fixedA"},"transform":[{"filter":"datum.k==='home'"}],"mark":{"type":"point","shape":"circle","size":1024,"filled":false,"stroke":"#231F20","strokeWidth":8,"opacity":1},"encoding":{"x":{"field":"x","type":"quantitative","scale":{"domain":[-17.3,17.3],"nice":false,"zero":false},"axis":null},"y":{"field":"y","type":"quantitative","scale":{"domain":[-17.3,17.3],"nice":false,"zero":false},"axis":null}}},
  {"data":{"name":"trajA"},"transform":[{"filter":"datum.p==='P1b'"}],"mark":{"type":"line","color":"#00AEDF","strokeWidth":4.5,"strokeJoin":"round","strokeCap":"round"},"encoding":{"x":{"field":"x","type":"quantitative","scale":{"domain":[-17.3,17.3],"nice":false,"zero":false},"axis":null},"y":{"field":"y","type":"quantitative","scale":{"domain":[-17.3,17.3],"nice":false,"zero":false},"axis":null},"order":{"field":"i","type":"quantitative"}}},
  {"data":{"name":"markA"},"transform":[{"filter":"datum.p==='P1b' && datum.k==='start'"}],"mark":{"type":"point","shape":"M-1,-1L1,1M1,-1L-1,1","size":729,"filled":false,"stroke":"#000000","strokeWidth":8,"opacity":1},"encoding":{"x":{"field":"x","type":"quantitative","scale":{"domain":[-17.3,17.3],"nice":false,"zero":false},"axis":null},"y":{"field":"y","type":"quantitative","scale":{"domain":[-17.3,17.3],"nice":false,"zero":false},"axis":null}}},
  {"data":{"name":"markA"},"transform":[{"filter":"datum.p==='P1b' && datum.k==='end'"}],"mark":{"type":"point","shape":"M-1,-1L1,1M1,-1L-1,1","size":729,"filled":false,"stroke":"#D2232A","strokeWidth":8,"opacity":1},"encoding":{"x":{"field":"x","type":"quantitative","scale":{"domain":[-17.3,17.3],"nice":false,"zero":false},"axis":null},"y":{"field":"y","type":"quantitative","scale":{"domain":[-17.3,17.3],"nice":false,"zero":false},"axis":null}}},
  {"data":{"name":"boxA"},"transform":[{"filter":"datum.p==='P1b'"}],"mark":{"type":"text","font":"Lato","fontSize":74,"color":"#231F20","align":"center","baseline":"alphabetic"},"encoding":{"text":{"field":"title"},"x":{"datum":0,"type":"quantitative","scale":{"domain":[-17.3,17.3],"nice":false,"zero":false},"axis":null},"y":{"datum":21.86,"type":"quantitative","scale":{"domain":[-17.3,17.3],"nice":false,"zero":false},"axis":null}}}
 ]},
 {"width":440,"height":440,"layer":[
  {"data":{"values":[{}]},"mark":{"type":"rect","fill":"#FFFFFF","fillOpacity":0,"stroke":"#00AEDF","strokeWidth":8},"encoding":{"x":{"datum":-17.3,"type":"quantitative","scale":{"domain":[-17.3,17.3],"nice":false,"zero":false},"axis":null},"x2":{"datum":17.3},"y":{"datum":-17.3,"type":"quantitative","scale":{"domain":[-17.3,17.3],"nice":false,"zero":false},"axis":null},"y2":{"datum":17.3}}},
  {"data":{"name":"targets"},"mark":{"type":"point","shape":"circle","size":961,"filled":false,"stroke":"#E3E4E5","strokeWidth":4,"opacity":1},"encoding":{"x":{"field":"x","type":"quantitative","scale":{"domain":[-17.3,17.3],"nice":false,"zero":false},"axis":null},"y":{"field":"y","type":"quantitative","scale":{"domain":[-17.3,17.3],"nice":false,"zero":false},"axis":null}}},
  {"data":{"name":"fixedA"},"transform":[{"filter":"datum.k==='target'"}],"mark":{"type":"point","shape":"circle","size":1024,"filled":false,"stroke":"#E8474F","strokeWidth":8,"opacity":1},"encoding":{"x":{"field":"x","type":"quantitative","scale":{"domain":[-17.3,17.3],"nice":false,"zero":false},"axis":null},"y":{"field":"y","type":"quantitative","scale":{"domain":[-17.3,17.3],"nice":false,"zero":false},"axis":null}}},
  {"data":{"name":"fixedA"},"transform":[{"filter":"datum.k==='home'"}],"mark":{"type":"point","shape":"circle","size":1024,"filled":false,"stroke":"#231F20","strokeWidth":8,"opacity":1},"encoding":{"x":{"field":"x","type":"quantitative","scale":{"domain":[-17.3,17.3],"nice":false,"zero":false},"axis":null},"y":{"field":"y","type":"quantitative","scale":{"domain":[-17.3,17.3],"nice":false,"zero":false},"axis":null}}},
  {"data":{"name":"trajA"},"transform":[{"filter":"datum.p==='P2b'"}],"mark":{"type":"line","color":"#00AEDF","strokeWidth":4.5,"strokeJoin":"round","strokeCap":"round"},"encoding":{"x":{"field":"x","type":"quantitative","scale":{"domain":[-17.3,17.3],"nice":false,"zero":false},"axis":null},"y":{"field":"y","type":"quantitative","scale":{"domain":[-17.3,17.3],"nice":false,"zero":false},"axis":null},"order":{"field":"i","type":"quantitative"}}},
  {"data":{"name":"markA"},"transform":[{"filter":"datum.p==='P2b' && datum.k==='start'"}],"mark":{"type":"point","shape":"M-1,-1L1,1M1,-1L-1,1","size":729,"filled":false,"stroke":"#000000","strokeWidth":8,"opacity":1},"encoding":{"x":{"field":"x","type":"quantitative","scale":{"domain":[-17.3,17.3],"nice":false,"zero":false},"axis":null},"y":{"field":"y","type":"quantitative","scale":{"domain":[-17.3,17.3],"nice":false,"zero":false},"axis":null}}},
  {"data":{"name":"markA"},"transform":[{"filter":"datum.p==='P2b' && datum.k==='end'"}],"mark":{"type":"point","shape":"M-1,-1L1,1M1,-1L-1,1","size":729,"filled":false,"stroke":"#D2232A","strokeWidth":8,"opacity":1},"encoding":{"x":{"field":"x","type":"quantitative","scale":{"domain":[-17.3,17.3],"nice":false,"zero":false},"axis":null},"y":{"field":"y","type":"quantitative","scale":{"domain":[-17.3,17.3],"nice":false,"zero":false},"axis":null}}},
  {"data":{"name":"boxA"},"transform":[{"filter":"datum.p==='P2b'"}],"mark":{"type":"text","font":"Lato","fontSize":74,"color":"#231F20","align":"center","baseline":"alphabetic"},"encoding":{"text":{"field":"title"},"x":{"datum":0,"type":"quantitative","scale":{"domain":[-17.3,17.3],"nice":false,"zero":false},"axis":null},"y":{"datum":21.86,"type":"quantitative","scale":{"domain":[-17.3,17.3],"nice":false,"zero":false},"axis":null}}}
 ]},
 {"width":440,"height":440,"layer":[
  {"data":{"values":[{}]},"mark":{"type":"rect","fill":"#FFFFFF","fillOpacity":0,"stroke":"#00AEDF","strokeWidth":8},"encoding":{"x":{"datum":-17.3,"type":"quantitative","scale":{"domain":[-17.3,17.3],"nice":false,"zero":false},"axis":null},"x2":{"datum":17.3},"y":{"datum":-17.3,"type":"quantitative","scale":{"domain":[-17.3,17.3],"nice":false,"zero":false},"axis":null},"y2":{"datum":17.3}}},
  {"data":{"name":"targets"},"mark":{"type":"point","shape":"circle","size":961,"filled":false,"stroke":"#E3E4E5","strokeWidth":4,"opacity":1},"encoding":{"x":{"field":"x","type":"quantitative","scale":{"domain":[-17.3,17.3],"nice":false,"zero":false},"axis":null},"y":{"field":"y","type":"quantitative","scale":{"domain":[-17.3,17.3],"nice":false,"zero":false},"axis":null}}},
  {"data":{"name":"fixedA"},"transform":[{"filter":"datum.k==='target'"}],"mark":{"type":"point","shape":"circle","size":1024,"filled":false,"stroke":"#E8474F","strokeWidth":8,"opacity":1},"encoding":{"x":{"field":"x","type":"quantitative","scale":{"domain":[-17.3,17.3],"nice":false,"zero":false},"axis":null},"y":{"field":"y","type":"quantitative","scale":{"domain":[-17.3,17.3],"nice":false,"zero":false},"axis":null}}},
  {"data":{"name":"fixedA"},"transform":[{"filter":"datum.k==='home'"}],"mark":{"type":"point","shape":"circle","size":1024,"filled":false,"stroke":"#231F20","strokeWidth":8,"opacity":1},"encoding":{"x":{"field":"x","type":"quantitative","scale":{"domain":[-17.3,17.3],"nice":false,"zero":false},"axis":null},"y":{"field":"y","type":"quantitative","scale":{"domain":[-17.3,17.3],"nice":false,"zero":false},"axis":null}}},
  {"data":{"name":"trajA"},"transform":[{"filter":"datum.p==='Gb'"}],"mark":{"type":"line","color":"#00AEDF","strokeWidth":4.5,"strokeJoin":"round","strokeCap":"round"},"encoding":{"x":{"field":"x","type":"quantitative","scale":{"domain":[-17.3,17.3],"nice":false,"zero":false},"axis":null},"y":{"field":"y","type":"quantitative","scale":{"domain":[-17.3,17.3],"nice":false,"zero":false},"axis":null},"order":{"field":"i","type":"quantitative"}}},
  {"data":{"name":"markA"},"transform":[{"filter":"datum.p==='Gb' && datum.k==='start'"}],"mark":{"type":"point","shape":"M-1,-1L1,1M1,-1L-1,1","size":729,"filled":false,"stroke":"#000000","strokeWidth":8,"opacity":1},"encoding":{"x":{"field":"x","type":"quantitative","scale":{"domain":[-17.3,17.3],"nice":false,"zero":false},"axis":null},"y":{"field":"y","type":"quantitative","scale":{"domain":[-17.3,17.3],"nice":false,"zero":false},"axis":null}}},
  {"data":{"name":"markA"},"transform":[{"filter":"datum.p==='Gb' && datum.k==='end'"}],"mark":{"type":"point","shape":"M-1,-1L1,1M1,-1L-1,1","size":729,"filled":false,"stroke":"#D2232A","strokeWidth":8,"opacity":1},"encoding":{"x":{"field":"x","type":"quantitative","scale":{"domain":[-17.3,17.3],"nice":false,"zero":false},"axis":null},"y":{"field":"y","type":"quantitative","scale":{"domain":[-17.3,17.3],"nice":false,"zero":false},"axis":null}}},
  {"data":{"name":"boxA"},"transform":[{"filter":"datum.p==='Gb'"}],"mark":{"type":"text","font":"Lato","fontSize":74,"color":"#231F20","align":"center","baseline":"alphabetic"},"encoding":{"text":{"field":"title"},"x":{"datum":0,"type":"quantitative","scale":{"domain":[-17.3,17.3],"nice":false,"zero":false},"axis":null},"y":{"datum":21.86,"type":"quantitative","scale":{"domain":[-17.3,17.3],"nice":false,"zero":false},"axis":null}}}
 ]}
]},
{"spacing":0,"bounds":"flush","hconcat":[
 {"width":339,"height":440,"layer":[
  {"data":{"values":[{"t":"B"}]},"mark":{"type":"text","align":"left","baseline":"top","font":"Open Sans","fontSize":175,"fontWeight":"bold","color":"#000000"},"encoding":{"text":{"field":"t"},"x":{"datum":0,"type":"quantitative","scale":{"domain":[0,1]},"axis":null},"y":{"datum":1.57955,"type":"quantitative","scale":{"domain":[0,1]},"axis":null}}},
  {"data":{"values":[{}]},"mark":{"type":"rule","opacity":0},"encoding":{"x":{"datum":0,"type":"quantitative","scale":{"domain":[0,1]},"axis":null},"y":{"datum":2.21591,"type":"quantitative","scale":{"domain":[0,1]},"axis":null},"y2":{"datum":-0.36364}}}
 ]},
 {"width":440,"height":440,"layer":[
  {"data":{"values":[{}]},"mark":{"type":"rect","fill":"#FFFFFF","fillOpacity":0,"stroke":"#939598","strokeWidth":8},"encoding":{"x":{"datum":-10.05,"type":"quantitative","scale":{"domain":[-10.05,10.05],"nice":false,"zero":false},"axis":null},"x2":{"datum":10.05},"y":{"datum":-10.05,"type":"quantitative","scale":{"domain":[-10.05,10.05],"nice":false,"zero":false},"axis":null},"y2":{"datum":10.05}}},
  {"data":{"name":"trajB"},"transform":[{"filter":"datum.p==='B'"}],"mark":{"type":"line","color":"#939598","strokeWidth":3.5,"strokeJoin":"round"},"encoding":{"x":{"field":"x","type":"quantitative","scale":{"domain":[-10.05,10.05],"nice":false,"zero":false},"axis":null},"y":{"field":"y","type":"quantitative","scale":{"domain":[-10.05,10.05],"nice":false,"zero":false},"axis":null},"order":{"field":"i","type":"quantitative"}}},
  {"data":{"name":"fixedA"},"transform":[{"filter":"datum.k==='home'"}],"mark":{"type":"point","shape":"circle","size":1024,"filled":false,"stroke":"#231F20","strokeWidth":8,"opacity":1},"encoding":{"x":{"field":"x","type":"quantitative","scale":{"domain":[-10.05,10.05],"nice":false,"zero":false},"axis":null},"y":{"field":"y","type":"quantitative","scale":{"domain":[-10.05,10.05],"nice":false,"zero":false},"axis":null}}},
  {"data":{"values":[{}]},"mark":{"type":"rule","color":"#231F20","strokeWidth":5,"strokeCap":"square"},"encoding":{"x":{"datum":-12.06,"type":"quantitative","scale":{"domain":[-10.05,10.05],"nice":false,"zero":false},"axis":null},"y":{"datum":-11.83,"type":"quantitative","scale":{"domain":[-10.05,10.05],"nice":false,"zero":false},"axis":null},"y2":{"datum":-1.83}}},
  {"data":{"values":[{}]},"mark":{"type":"rule","color":"#231F20","strokeWidth":5,"strokeCap":"square"},"encoding":{"x":{"datum":-12.06,"type":"quantitative","scale":{"domain":[-10.05,10.05],"nice":false,"zero":false},"axis":null},"x2":{"datum":-2.06},"y":{"datum":-11.83,"type":"quantitative","scale":{"domain":[-10.05,10.05],"nice":false,"zero":false},"axis":null}}},
  {"data":{"values":[{}]},"mark":{"type":"text","angle":270,"font":"Lato","fontSize":62,"color":"#231F20","align":"center","baseline":"middle"},"encoding":{"x":{"datum":-13.9,"type":"quantitative","scale":{"domain":[-10.05,10.05],"nice":false,"zero":false},"axis":null},"y":{"datum":-6.6,"type":"quantitative","scale":{"domain":[-10.05,10.05],"nice":false,"zero":false},"axis":null},"text":{"value":"10 cm"}}},
  {"data":{"values":[{}]},"mark":{"type":"text","font":"Lato","fontSize":62,"color":"#231F20","align":"center","baseline":"middle"},"encoding":{"x":{"datum":-7.1,"type":"quantitative","scale":{"domain":[-10.05,10.05],"nice":false,"zero":false},"axis":null},"y":{"datum":-13.6,"type":"quantitative","scale":{"domain":[-10.05,10.05],"nice":false,"zero":false},"axis":null},"text":{"value":"10 cm"}}},
  {"data":{"name":"boxB"},"transform":[{"filter":"datum.p==='B'"}],"mark":{"type":"text","font":"Lato","fontSize":74,"color":"#231F20","align":"center","baseline":"alphabetic"},"encoding":{"text":{"field":"title"},"x":{"datum":0,"type":"quantitative","scale":{"domain":[-10.05,10.05],"nice":false,"zero":false},"axis":null},"y":{"datum":12.75,"type":"quantitative","scale":{"domain":[-10.05,10.05],"nice":false,"zero":false},"axis":null}}}
 ]},
 {"width":127,"height":440,"data":{"values":[{}]},"mark":"text","encoding":{"text":{"value":""}}},
 {"width":440,"height":440,"layer":[
  {"data":{"values":[{}]},"mark":{"type":"rect","fill":"#FFFFFF","fillOpacity":0,"stroke":"#F7941D","strokeWidth":8},"encoding":{"x":{"datum":-10.05,"type":"quantitative","scale":{"domain":[-10.05,10.05],"nice":false,"zero":false},"axis":null},"x2":{"datum":10.05},"y":{"datum":-10.05,"type":"quantitative","scale":{"domain":[-10.05,10.05],"nice":false,"zero":false},"axis":null},"y2":{"datum":10.05}}},
  {"data":{"name":"trajB"},"transform":[{"filter":"datum.p==='Go'"}],"mark":{"type":"line","color":"#F7941D","strokeWidth":3.5,"strokeJoin":"round"},"encoding":{"x":{"field":"x","type":"quantitative","scale":{"domain":[-10.05,10.05],"nice":false,"zero":false},"axis":null},"y":{"field":"y","type":"quantitative","scale":{"domain":[-10.05,10.05],"nice":false,"zero":false},"axis":null},"order":{"field":"i","type":"quantitative"}}},
  {"data":{"name":"fixedA"},"transform":[{"filter":"datum.k==='home'"}],"mark":{"type":"point","shape":"circle","size":1024,"filled":false,"stroke":"#231F20","strokeWidth":8,"opacity":1},"encoding":{"x":{"field":"x","type":"quantitative","scale":{"domain":[-10.05,10.05],"nice":false,"zero":false},"axis":null},"y":{"field":"y","type":"quantitative","scale":{"domain":[-10.05,10.05],"nice":false,"zero":false},"axis":null}}},
  {"data":{"name":"boxB"},"transform":[{"filter":"datum.p==='Go'"}],"mark":{"type":"text","font":"Lato","fontSize":74,"color":"#231F20","align":"center","baseline":"alphabetic"},"encoding":{"text":{"field":"title"},"x":{"datum":0,"type":"quantitative","scale":{"domain":[-10.05,10.05],"nice":false,"zero":false},"axis":null},"y":{"datum":12.75,"type":"quantitative","scale":{"domain":[-10.05,10.05],"nice":false,"zero":false},"axis":null}}}
 ]},
 {"width":122,"height":440,"data":{"values":[{}]},"mark":{"type":"rule","color":"#231F20","strokeWidth":5},"encoding":{"x":{"datum":0.48,"type":"quantitative","scale":{"domain":[0,1]},"axis":null},"y":{"datum":0,"type":"quantitative","scale":{"domain":[0,1]},"axis":null},"y2":{"datum":1.323}}},
 {"width":440,"height":440,"layer":[
  {"data":{"values":[{}]},"mark":{"type":"rect","fill":"#FFFFFF","fillOpacity":0,"stroke":"#00AEDF","strokeWidth":8},"encoding":{"x":{"datum":-10.05,"type":"quantitative","scale":{"domain":[-10.05,10.05],"nice":false,"zero":false},"axis":null},"x2":{"datum":10.05},"y":{"datum":-10.05,"type":"quantitative","scale":{"domain":[-10.05,10.05],"nice":false,"zero":false},"axis":null},"y2":{"datum":10.05}}},
  {"data":{"name":"trajB"},"transform":[{"filter":"datum.p==='Gb'"}],"mark":{"type":"line","color":"#00AEDF","strokeWidth":3.5,"strokeJoin":"round"},"encoding":{"x":{"field":"x","type":"quantitative","scale":{"domain":[-10.05,10.05],"nice":false,"zero":false},"axis":null},"y":{"field":"y","type":"quantitative","scale":{"domain":[-10.05,10.05],"nice":false,"zero":false},"axis":null},"order":{"field":"i","type":"quantitative"}}},
  {"data":{"name":"fixedA"},"transform":[{"filter":"datum.k==='home'"}],"mark":{"type":"point","shape":"circle","size":1024,"filled":false,"stroke":"#231F20","strokeWidth":8,"opacity":1},"encoding":{"x":{"field":"x","type":"quantitative","scale":{"domain":[-10.05,10.05],"nice":false,"zero":false},"axis":null},"y":{"field":"y","type":"quantitative","scale":{"domain":[-10.05,10.05],"nice":false,"zero":false},"axis":null}}},
  {"data":{"name":"boxB"},"transform":[{"filter":"datum.p==='Gb'"}],"mark":{"type":"text","font":"Lato","fontSize":74,"color":"#231F20","align":"center","baseline":"alphabetic"},"encoding":{"text":{"field":"title"},"x":{"datum":0,"type":"quantitative","scale":{"domain":[-10.05,10.05],"nice":false,"zero":false},"axis":null},"y":{"datum":12.75,"type":"quantitative","scale":{"domain":[-10.05,10.05],"nice":false,"zero":false},"axis":null}}}
 ]},
 {"width":387,"height":440,"data":{"values":[{}]},"mark":"text","encoding":{"text":{"value":""}}},
 {"width":626,"height":440,
  "resolve":{"scale":{"x":"independent","y":"independent"}},
  "layer":[
   {"data":{"values":[{}]},"mark":{"type":"rect","fill":"#FFFFFF","fillOpacity":0,"stroke":"#231F20","strokeWidth":5},"encoding":{"x":{"datum":0,"type":"quantitative","scale":{"domain":[0,1]},"axis":null},"x2":{"datum":1},"y":{"datum":1.15909,"type":"quantitative","scale":{"domain":[0,1]},"axis":null},"y2":{"datum":0.18636}}},
   {"data":{"values":[{"t":"vibroTactile"}]},"mark":{"type":"text","align":"left","baseline":"alphabetic","font":"Lato","fontSize":100,"color":"#231F20"},"encoding":{"text":{"field":"t"},"x":{"datum":0.03674,"type":"quantitative","scale":{"domain":[0,1]},"axis":null},"y":{"datum":1.25455,"type":"quantitative","scale":{"domain":[0,1]},"axis":null}}},
   {"data":{"name":"legendVT"},"mark":{"type":"point","shape":"M-1,-0.512H1V0.512H-1Z","size":26896,"filled":true,"opacity":1,"strokeWidth":0},
    "encoding":{"x":{"datum":"swatch","type":"nominal","scale":{"type":"point","domain":["swatch"],"align":0.2},"axis":null},"y":{"field":"name","type":"nominal","scale":{"type":"point","domain":["T-","T+ (State)","T+ (Error)"],"padding":0.648,"align":0.0751},"axis":null},
     "fill":{"field":"name","type":"nominal","scale":{"domain":["T-","T+ (State)","T+ (Error)"],"range":["#A7A9AC","#F5A04A","#33BBE2"]},"legend":null}}},
   {"data":{"name":"legendVT"},"mark":{"type":"text","align":"left","baseline":"alphabetic","dx":129,"dy":31,"font":"Lato","fontSize":104,"color":"#231F20"},
    "encoding":{"x":{"datum":"swatch","type":"nominal","scale":{"type":"point","domain":["swatch"],"align":0.2},"axis":null},"y":{"field":"name","type":"nominal","scale":{"type":"point","domain":["T-","T+ (State)","T+ (Error)"],"padding":0.648,"align":0.0751},"axis":null},"text":{"field":"main"}}},
   {"data":{"name":"legendVT"},"mark":{"type":"text","align":"left","baseline":"alphabetic","dx":268,"dy":31,"font":"Lato","fontSize":66,"color":"#231F20"},
    "encoding":{"x":{"datum":"swatch","type":"nominal","scale":{"type":"point","domain":["swatch"],"align":0.2},"axis":null},"y":{"field":"name","type":"nominal","scale":{"type":"point","domain":["T-","T+ (State)","T+ (Error)"],"padding":0.648,"align":0.0751},"axis":null},"text":{"field":"sub"}}}
  ]},
 {"width":74,"height":440,"data":{"values":[{}]},"mark":"text","encoding":{"text":{"value":""}}},
 {"width":542,"height":440,
  "resolve":{"scale":{"x":"independent","y":"independent"}},
  "layer":[
   {"data":{"values":[{}]},"mark":{"type":"rect","fill":"#FFFFFF","fillOpacity":0,"stroke":"#231F20","strokeWidth":5},"encoding":{"x":{"datum":0,"type":"quantitative","scale":{"domain":[0,1]},"axis":null},"x2":{"datum":1},"y":{"datum":1.16136,"type":"quantitative","scale":{"domain":[0,1]},"axis":null},"y2":{"datum":0.19091}}},
   {"data":{"values":[{"t":"Visual feedback"}]},"mark":{"type":"text","align":"left","baseline":"alphabetic","font":"Lato","fontSize":100,"color":"#231F20"},"encoding":{"text":{"field":"t"},"x":{"datum":-0.0166,"type":"quantitative","scale":{"domain":[0,1]},"axis":null},"y":{"datum":1.25455,"type":"quantitative","scale":{"domain":[0,1]},"axis":null}}},
   {"data":{"name":"legendVF"},"transform":[{"filter":"datum.name==='V-'"}],"mark":{"type":"point","shape":"M-1,-0.5125H1V0.5125H-1Z","size":25600,"filled":true,"fill":"#FFFFFF","stroke":"#231F20","strokeWidth":9,"opacity":1},
    "encoding":{"x":{"datum":"swatch","type":"nominal","scale":{"type":"point","domain":["swatch"],"align":0.237},"axis":null},"y":{"field":"name","type":"nominal","scale":{"type":"point","domain":["V-","V+","V+ (KR)"],"padding":0.648,"align":0.0751},"axis":null}}},
   {"data":{"name":"legendVF"},"transform":[{"filter":"datum.name==='V+'"}],"mark":{"type":"point","shape":"M-1,-0.5125H1V0.5125H-1Z","size":25600,"filled":true,"stroke":"#808285","strokeWidth":8,"opacity":1,
    "fill":{"gradient":"linear","x1":0,"y1":0,"x2":1.2009,"y2":0.4148,"stops":[
     {"offset":0,"color":"#231F20"},{"offset":0.028,"color":"#231F20"},{"offset":0.028,"color":"#FFFFFF"},{"offset":0.16667,"color":"#FFFFFF"},
     {"offset":0.16667,"color":"#231F20"},{"offset":0.19467,"color":"#231F20"},{"offset":0.19467,"color":"#FFFFFF"},{"offset":0.33333,"color":"#FFFFFF"},
     {"offset":0.33333,"color":"#231F20"},{"offset":0.36133,"color":"#231F20"},{"offset":0.36133,"color":"#FFFFFF"},{"offset":0.5,"color":"#FFFFFF"},
     {"offset":0.5,"color":"#231F20"},{"offset":0.528,"color":"#231F20"},{"offset":0.528,"color":"#FFFFFF"},{"offset":0.66667,"color":"#FFFFFF"},
     {"offset":0.66667,"color":"#231F20"},{"offset":0.69467,"color":"#231F20"},{"offset":0.69467,"color":"#FFFFFF"},{"offset":0.83333,"color":"#FFFFFF"},
     {"offset":0.83333,"color":"#231F20"},{"offset":0.86133,"color":"#231F20"},{"offset":0.86133,"color":"#FFFFFF"},{"offset":1,"color":"#FFFFFF"}]}},
    "encoding":{"x":{"datum":"swatch","type":"nominal","scale":{"type":"point","domain":["swatch"],"align":0.237},"axis":null},"y":{"field":"name","type":"nominal","scale":{"type":"point","domain":["V-","V+","V+ (KR)"],"padding":0.648,"align":0.0751},"axis":null}}},
   {"data":{"name":"legendVF"},"transform":[{"filter":"datum.name==='V+ (KR)'"}],"mark":{"type":"point","shape":"M-1,-0.5125H1V0.5125H-1Z","size":25600,"filled":true,"stroke":"#231F20","strokeWidth":10,"opacity":1,
    "fill":{"gradient":"linear","x1":0,"y1":0,"x2":1.2013,"y2":0.5949,"stops":[
     {"offset":0,"color":"#3A3A3A"},{"offset":0.035,"color":"#3A3A3A"},{"offset":0.035,"color":"#FFFFFF"},{"offset":0.2,"color":"#FFFFFF"},
     {"offset":0.2,"color":"#3A3A3A"},{"offset":0.235,"color":"#3A3A3A"},{"offset":0.235,"color":"#FFFFFF"},{"offset":0.4,"color":"#FFFFFF"},
     {"offset":0.4,"color":"#3A3A3A"},{"offset":0.435,"color":"#3A3A3A"},{"offset":0.435,"color":"#FFFFFF"},{"offset":0.6,"color":"#FFFFFF"},
     {"offset":0.6,"color":"#3A3A3A"},{"offset":0.635,"color":"#3A3A3A"},{"offset":0.635,"color":"#FFFFFF"},{"offset":0.8,"color":"#FFFFFF"},
     {"offset":0.8,"color":"#3A3A3A"},{"offset":0.835,"color":"#3A3A3A"},{"offset":0.835,"color":"#FFFFFF"},{"offset":1,"color":"#FFFFFF"}]}},
    "encoding":{"x":{"datum":"swatch","type":"nominal","scale":{"type":"point","domain":["swatch"],"align":0.237},"axis":null},"y":{"field":"name","type":"nominal","scale":{"type":"point","domain":["V-","V+","V+ (KR)"],"padding":0.648,"align":0.0751},"axis":null}}},
   {"data":{"name":"legendVF"},"mark":{"type":"text","align":"left","baseline":"alphabetic","dx":128,"dy":31,"font":"Lato","fontSize":104,"color":"#231F20"},
    "encoding":{"x":{"datum":"swatch","type":"nominal","scale":{"type":"point","domain":["swatch"],"align":0.237},"axis":null},"y":{"field":"name","type":"nominal","scale":{"type":"point","domain":["V-","V+","V+ (KR)"],"padding":0.648,"align":0.0751},"axis":null},"text":{"field":"main"}}},
   {"data":{"name":"legendVF"},"mark":{"type":"text","align":"left","baseline":"alphabetic","dx":266,"dy":31,"font":"Lato","fontSize":66,"color":"#231F20"},
    "encoding":{"x":{"datum":"swatch","type":"nominal","scale":{"type":"point","domain":["swatch"],"align":0.237},"axis":null},"y":{"field":"name","type":"nominal","scale":{"type":"point","domain":["V-","V+","V+ (KR)"],"padding":0.648,"align":0.0751},"axis":null},"text":{"field":"sub"}}}
  ]}
]},
{"spacing":0,"bounds":"flush","hconcat":[
 {"width":437,"height":1430,"layer":[
  {"data":{"values":[{"t":"C"}]},"mark":{"type":"text","align":"left","baseline":"top","font":"Open Sans","fontSize":175,"fontWeight":"bold","color":"#000000"},"encoding":{"text":{"field":"t"},"x":{"datum":0,"type":"quantitative","scale":{"domain":[0,1]},"axis":null},"y":{"datum":1.17972,"type":"quantitative","scale":{"domain":[0,1]},"axis":null}}},
  {"data":{"values":[{}]},"mark":{"type":"rule","opacity":0},"encoding":{"x":{"datum":0,"type":"quantitative","scale":{"domain":[0,1]},"axis":null},"y":{"datum":1.35105,"type":"quantitative","scale":{"domain":[0,1]},"axis":null},"y2":{"datum":1}}}
 ]},
 {"width":1456,"height":1430,
  "resolve":{"axis":{"x":"independent","y":"independent"}},
  "layer":[
   {"data":{"name":"bandC"},"transform":[{"filter":"datum.k==='T- V-'"}],"mark":{"type":"rect","fill":"#C7C8CA"},
    "encoding":{"y":{"field":"lo","type":"quantitative","scale":{"domain":[0,14],"nice":false},
      "axis":{"orient":"left","offset":-25,"zindex":1,"title":null,"labels":false,"domain":false,"ticks":true,"tickSize":25,"tickWidth":4,"tickColor":"#231F20","values":[0,2,4,6,8,10,12,14],"grid":false}},"y2":{"field":"hi"}}},
   {"data":{"name":"bandC"},"transform":[{"filter":"datum.k==='T- V-'"}],"mark":{"type":"rule","color":"#A1A3A6","strokeWidth":7},"encoding":{"y":{"field":"mid","type":"quantitative","scale":{"domain":[0,14],"nice":false},"axis":null}}},
   {"data":{"name":"bandC"},"transform":[{"filter":"datum.k==='T- V+'"}],"mark":{"type":"rect","fill":"#CDCED0"},"encoding":{"y":{"field":"lo","type":"quantitative","scale":{"domain":[0,14],"nice":false},"axis":null},"y2":{"field":"hi"}}},
   {"data":{"name":"bandC"},"transform":[{"filter":"datum.k==='T- V+'"}],"mark":{"type":"rule","color":"#58595B","strokeWidth":15,"strokeDash":[6,30]},"encoding":{"y":{"field":"mid","type":"quantitative","scale":{"domain":[0,14],"nice":false},"axis":null}}},
   {"data":{"name":"bandC"},"transform":[{"filter":"datum.k==='T- V+'"}],"mark":{"type":"rule","color":"#A1A3A6","strokeWidth":5},"encoding":{"y":{"field":"mid","type":"quantitative","scale":{"domain":[0,14],"nice":false},"axis":null}}},
   {"data":{"values":[{}]},"mark":{"type":"rule","color":"#231F20","strokeWidth":5},"encoding":{"x":{"datum":"_gap","type":"nominal","bandPosition":0.5,"scale":{"type":"band","domain":["P1_1","P2_1","G_1","_gap","P1_2","P2_2","G_2"],"paddingInner":0.23,"paddingOuter":0.615},"axis":null}}},
   {"data":{"name":"barsC"},"mark":{"type":"bar","fillOpacity":0.85,"stroke":"#000000","strokeWidth":10},
    "encoding":{"x":{"field":"key","type":"nominal","scale":{"type":"band","domain":["P1_1","P2_1","G_1","_gap","P1_2","P2_2","G_2"],"paddingInner":0.23,"paddingOuter":0.615},
      "axis":{"orient":"bottom","zindex":1,"title":null,"ticks":false,"domain":true,"domainColor":"#6D6E71","domainWidth":4,"labelExpr":"split(datum.value,'_')[0]","labelAngle":0,"labelFont":"Inter","labelFontSize":80,"labelColor":"#231F20","labelPadding":36,"labelOverlap":false,"labelLimit":1000}},
     "y":{"field":"mean","type":"quantitative","scale":{"domain":[0,14],"nice":false},
      "axis":{"orient":"left","zindex":1,"title":"Final position error [cm]","titleFont":"Lato","titleFontSize":82,"titleFontWeight":"normal","titleColor":"#231F20","titlePadding":30,"values":[0,2,4,6,8,10,12,14],"labelFont":"Inter","labelFontSize":80,"labelColor":"#231F20","labelPadding":39,"labelFlush":false,"labelOverlap":false,"ticks":false,"domainColor":"#231F20","domainWidth":4,"grid":false}},
     "fill":{"field":"tactile","type":"nominal","scale":{"domain":["T+ (State)","T+ (Error)"],"range":["#F3901F","#00A9DF"]},"legend":null}}},
   {"data":{"name":"barsC"},"transform":[{"filter":"datum.visual==='V+ (KR)' && datum.day==='Day1'"}],
    "mark":{"type":"bar","strokeWidth":0,"fill":{"gradient":"linear","x1":0,"y1":0,"x2":0.2526,"y2":1.1626,"stops":[
     {"offset":0,"color":"#1E1E1E"},{"offset":0.0155,"color":"#1E1E1E"},{"offset":0.0155,"color":"rgba(0,0,0,0)"},{"offset":0.08333,"color":"rgba(0,0,0,0)"},
     {"offset":0.08333,"color":"#1E1E1E"},{"offset":0.09883,"color":"#1E1E1E"},{"offset":0.09883,"color":"rgba(0,0,0,0)"},{"offset":0.16667,"color":"rgba(0,0,0,0)"},
     {"offset":0.16667,"color":"#1E1E1E"},{"offset":0.18217,"color":"#1E1E1E"},{"offset":0.18217,"color":"rgba(0,0,0,0)"},{"offset":0.25,"color":"rgba(0,0,0,0)"},
     {"offset":0.25,"color":"#1E1E1E"},{"offset":0.2655,"color":"#1E1E1E"},{"offset":0.2655,"color":"rgba(0,0,0,0)"},{"offset":0.33333,"color":"rgba(0,0,0,0)"},
     {"offset":0.33333,"color":"#1E1E1E"},{"offset":0.34883,"color":"#1E1E1E"},{"offset":0.34883,"color":"rgba(0,0,0,0)"},{"offset":0.41667,"color":"rgba(0,0,0,0)"},
     {"offset":0.41667,"color":"#1E1E1E"},{"offset":0.43217,"color":"#1E1E1E"},{"offset":0.43217,"color":"rgba(0,0,0,0)"},{"offset":0.5,"color":"rgba(0,0,0,0)"},
     {"offset":0.5,"color":"#1E1E1E"},{"offset":0.5155,"color":"#1E1E1E"},{"offset":0.5155,"color":"rgba(0,0,0,0)"},{"offset":0.58333,"color":"rgba(0,0,0,0)"},
     {"offset":0.58333,"color":"#1E1E1E"},{"offset":0.59883,"color":"#1E1E1E"},{"offset":0.59883,"color":"rgba(0,0,0,0)"},{"offset":0.66667,"color":"rgba(0,0,0,0)"},
     {"offset":0.66667,"color":"#1E1E1E"},{"offset":0.68217,"color":"#1E1E1E"},{"offset":0.68217,"color":"rgba(0,0,0,0)"},{"offset":0.75,"color":"rgba(0,0,0,0)"},
     {"offset":0.75,"color":"#1E1E1E"},{"offset":0.7655,"color":"#1E1E1E"},{"offset":0.7655,"color":"rgba(0,0,0,0)"},{"offset":0.83333,"color":"rgba(0,0,0,0)"},
     {"offset":0.83333,"color":"#1E1E1E"},{"offset":0.84883,"color":"#1E1E1E"},{"offset":0.84883,"color":"rgba(0,0,0,0)"},{"offset":0.91667,"color":"rgba(0,0,0,0)"},
     {"offset":0.91667,"color":"#1E1E1E"},{"offset":0.93217,"color":"#1E1E1E"},{"offset":0.93217,"color":"rgba(0,0,0,0)"},{"offset":1,"color":"rgba(0,0,0,0)"}]}},
    "encoding":{"x":{"field":"key","type":"nominal","scale":{"type":"band","domain":["P1_1","P2_1","G_1","_gap","P1_2","P2_2","G_2"],"paddingInner":0.23,"paddingOuter":0.615},"axis":null},"y":{"field":"mean","type":"quantitative","scale":{"domain":[0,14],"nice":false},"axis":null}}},
   {"data":{"name":"barsC"},"transform":[{"filter":"datum.visual==='V+ (KR)' && datum.day==='Day2'"}],
    "mark":{"type":"bar","strokeWidth":0,"fill":{"gradient":"linear","x1":0,"y1":0,"x2":0.18102,"y2":1.13087,"stops":[
     {"offset":0,"color":"#1E1E1E"},{"offset":0.012,"color":"#1E1E1E"},{"offset":0.012,"color":"rgba(0,0,0,0)"},{"offset":0.06667,"color":"rgba(0,0,0,0)"},
     {"offset":0.06667,"color":"#1E1E1E"},{"offset":0.07867,"color":"#1E1E1E"},{"offset":0.07867,"color":"rgba(0,0,0,0)"},{"offset":0.13333,"color":"rgba(0,0,0,0)"},
     {"offset":0.13333,"color":"#1E1E1E"},{"offset":0.14533,"color":"#1E1E1E"},{"offset":0.14533,"color":"rgba(0,0,0,0)"},{"offset":0.2,"color":"rgba(0,0,0,0)"},
     {"offset":0.2,"color":"#1E1E1E"},{"offset":0.212,"color":"#1E1E1E"},{"offset":0.212,"color":"rgba(0,0,0,0)"},{"offset":0.26667,"color":"rgba(0,0,0,0)"},
     {"offset":0.26667,"color":"#1E1E1E"},{"offset":0.27867,"color":"#1E1E1E"},{"offset":0.27867,"color":"rgba(0,0,0,0)"},{"offset":0.33333,"color":"rgba(0,0,0,0)"},
     {"offset":0.33333,"color":"#1E1E1E"},{"offset":0.34533,"color":"#1E1E1E"},{"offset":0.34533,"color":"rgba(0,0,0,0)"},{"offset":0.4,"color":"rgba(0,0,0,0)"},
     {"offset":0.4,"color":"#1E1E1E"},{"offset":0.412,"color":"#1E1E1E"},{"offset":0.412,"color":"rgba(0,0,0,0)"},{"offset":0.46667,"color":"rgba(0,0,0,0)"},
     {"offset":0.46667,"color":"#1E1E1E"},{"offset":0.47867,"color":"#1E1E1E"},{"offset":0.47867,"color":"rgba(0,0,0,0)"},{"offset":0.53333,"color":"rgba(0,0,0,0)"},
     {"offset":0.53333,"color":"#1E1E1E"},{"offset":0.54533,"color":"#1E1E1E"},{"offset":0.54533,"color":"rgba(0,0,0,0)"},{"offset":0.6,"color":"rgba(0,0,0,0)"},
     {"offset":0.6,"color":"#1E1E1E"},{"offset":0.612,"color":"#1E1E1E"},{"offset":0.612,"color":"rgba(0,0,0,0)"},{"offset":0.66667,"color":"rgba(0,0,0,0)"},
     {"offset":0.66667,"color":"#1E1E1E"},{"offset":0.67867,"color":"#1E1E1E"},{"offset":0.67867,"color":"rgba(0,0,0,0)"},{"offset":0.73333,"color":"rgba(0,0,0,0)"},
     {"offset":0.73333,"color":"#1E1E1E"},{"offset":0.74533,"color":"#1E1E1E"},{"offset":0.74533,"color":"rgba(0,0,0,0)"},{"offset":0.8,"color":"rgba(0,0,0,0)"},
     {"offset":0.8,"color":"#1E1E1E"},{"offset":0.812,"color":"#1E1E1E"},{"offset":0.812,"color":"rgba(0,0,0,0)"},{"offset":0.86667,"color":"rgba(0,0,0,0)"},
     {"offset":0.86667,"color":"#1E1E1E"},{"offset":0.87867,"color":"#1E1E1E"},{"offset":0.87867,"color":"rgba(0,0,0,0)"},{"offset":0.93333,"color":"rgba(0,0,0,0)"},
     {"offset":0.93333,"color":"#1E1E1E"},{"offset":0.94533,"color":"#1E1E1E"},{"offset":0.94533,"color":"rgba(0,0,0,0)"},{"offset":1,"color":"rgba(0,0,0,0)"}]}},
    "encoding":{"x":{"field":"key","type":"nominal","scale":{"type":"band","domain":["P1_1","P2_1","G_1","_gap","P1_2","P2_2","G_2"],"paddingInner":0.23,"paddingOuter":0.615},"axis":null},"y":{"field":"mean","type":"quantitative","scale":{"domain":[0,14],"nice":false},"axis":null}}},
   {"data":{"name":"barsC"},"mark":{"type":"rule","color":"#000000","strokeWidth":10},
    "encoding":{"x":{"field":"key","type":"nominal","bandPosition":0.5,"scale":{"type":"band","domain":["P1_1","P2_1","G_1","_gap","P1_2","P2_2","G_2"],"paddingInner":0.23,"paddingOuter":0.615},
      "axis":{"orient":"top","title":null,"ticks":false,"domain":false,"labelExpr":"datum.value==='P2_1'?'Day1':datum.value==='P2_2'?'Day2':''","labelAngle":0,"labelFont":"Inter","labelFontSize":88,"labelFontWeight":500,"labelColor":"#231F20","labelPadding":63,"labelBaseline":"alphabetic","labelOverlap":false,"labelLimit":1000}},
     "y":{"field":"lo","type":"quantitative","scale":{"domain":[0,14],"nice":false},"axis":null},"y2":{"field":"hi"}}}
  ]},
 {"width":852,"height":1430,"data":{"values":[{"t":"D"}]},"mark":{"type":"text","align":"left","baseline":"top","font":"Open Sans","fontSize":175,"fontWeight":"bold","color":"#000000"},"encoding":{"text":{"field":"t"},"x":{"datum":0.5939,"type":"quantitative","scale":{"domain":[0,1]},"axis":null},"y":{"datum":1.17972,"type":"quantitative","scale":{"domain":[0,1]},"axis":null}}},
 {"width":788,"height":1430,
  "resolve":{"axis":{"x":"independent","y":"independent"}},
  "layer":[
   {"data":{"name":"bandD"},"transform":[{"filter":"datum.k==='T- V-'"}],"mark":{"type":"rect","fill":"#C7C8CA"},
    "encoding":{"y":{"field":"lo","type":"quantitative","scale":{"domain":[0,7],"nice":false},
      "axis":{"orient":"left","offset":-25,"zindex":1,"title":null,"labels":false,"domain":false,"ticks":true,"tickSize":25,"tickWidth":4,"tickColor":"#231F20","values":[0,1,2,3,4,5,6,7],"grid":false}},"y2":{"field":"hi"}}},
   {"data":{"name":"bandD"},"transform":[{"filter":"datum.k==='T- V-'"}],"mark":{"type":"rule","color":"#A1A3A6","strokeWidth":7},"encoding":{"y":{"field":"mid","type":"quantitative","scale":{"domain":[0,7],"nice":false},"axis":null}}},
   {"data":{"name":"bandD"},"transform":[{"filter":"datum.k==='T- V+'"}],
    "mark":{"type":"rect","fill":{"gradient":"linear","x1":0,"y1":0,"x2":1.03116,"y2":0.03314,"stops":[
     {"offset":0,"color":"#414042"},{"offset":0.0078,"color":"#414042"},{"offset":0.0078,"color":"#C7C8CA"},{"offset":0.04545,"color":"#C7C8CA"},
     {"offset":0.04545,"color":"#414042"},{"offset":0.05325,"color":"#414042"},{"offset":0.05325,"color":"#C7C8CA"},{"offset":0.09091,"color":"#C7C8CA"},
     {"offset":0.09091,"color":"#414042"},{"offset":0.09871,"color":"#414042"},{"offset":0.09871,"color":"#C7C8CA"},{"offset":0.13636,"color":"#C7C8CA"},
     {"offset":0.13636,"color":"#414042"},{"offset":0.14416,"color":"#414042"},{"offset":0.14416,"color":"#C7C8CA"},{"offset":0.18182,"color":"#C7C8CA"},
     {"offset":0.18182,"color":"#414042"},{"offset":0.18962,"color":"#414042"},{"offset":0.18962,"color":"#C7C8CA"},{"offset":0.22727,"color":"#C7C8CA"},
     {"offset":0.22727,"color":"#414042"},{"offset":0.23507,"color":"#414042"},{"offset":0.23507,"color":"#C7C8CA"},{"offset":0.27273,"color":"#C7C8CA"},
     {"offset":0.27273,"color":"#414042"},{"offset":0.28053,"color":"#414042"},{"offset":0.28053,"color":"#C7C8CA"},{"offset":0.31818,"color":"#C7C8CA"},
     {"offset":0.31818,"color":"#414042"},{"offset":0.32598,"color":"#414042"},{"offset":0.32598,"color":"#C7C8CA"},{"offset":0.36364,"color":"#C7C8CA"},
     {"offset":0.36364,"color":"#414042"},{"offset":0.37144,"color":"#414042"},{"offset":0.37144,"color":"#C7C8CA"},{"offset":0.40909,"color":"#C7C8CA"},
     {"offset":0.40909,"color":"#414042"},{"offset":0.41689,"color":"#414042"},{"offset":0.41689,"color":"#C7C8CA"},{"offset":0.45455,"color":"#C7C8CA"},
     {"offset":0.45455,"color":"#414042"},{"offset":0.46235,"color":"#414042"},{"offset":0.46235,"color":"#C7C8CA"},{"offset":0.5,"color":"#C7C8CA"},
     {"offset":0.5,"color":"#414042"},{"offset":0.5078,"color":"#414042"},{"offset":0.5078,"color":"#C7C8CA"},{"offset":0.54545,"color":"#C7C8CA"},
     {"offset":0.54545,"color":"#414042"},{"offset":0.55325,"color":"#414042"},{"offset":0.55325,"color":"#C7C8CA"},{"offset":0.59091,"color":"#C7C8CA"},
     {"offset":0.59091,"color":"#414042"},{"offset":0.59871,"color":"#414042"},{"offset":0.59871,"color":"#C7C8CA"},{"offset":0.63636,"color":"#C7C8CA"},
     {"offset":0.63636,"color":"#414042"},{"offset":0.64416,"color":"#414042"},{"offset":0.64416,"color":"#C7C8CA"},{"offset":0.68182,"color":"#C7C8CA"},
     {"offset":0.68182,"color":"#414042"},{"offset":0.68962,"color":"#414042"},{"offset":0.68962,"color":"#C7C8CA"},{"offset":0.72727,"color":"#C7C8CA"},
     {"offset":0.72727,"color":"#414042"},{"offset":0.73507,"color":"#414042"},{"offset":0.73507,"color":"#C7C8CA"},{"offset":0.77273,"color":"#C7C8CA"},
     {"offset":0.77273,"color":"#414042"},{"offset":0.78053,"color":"#414042"},{"offset":0.78053,"color":"#C7C8CA"},{"offset":0.81818,"color":"#C7C8CA"},
     {"offset":0.81818,"color":"#414042"},{"offset":0.82598,"color":"#414042"},{"offset":0.82598,"color":"#C7C8CA"},{"offset":0.86364,"color":"#C7C8CA"},
     {"offset":0.86364,"color":"#414042"},{"offset":0.87144,"color":"#414042"},{"offset":0.87144,"color":"#C7C8CA"},{"offset":0.90909,"color":"#C7C8CA"},
     {"offset":0.90909,"color":"#414042"},{"offset":0.91689,"color":"#414042"},{"offset":0.91689,"color":"#C7C8CA"},{"offset":0.95455,"color":"#C7C8CA"},
     {"offset":0.95455,"color":"#414042"},{"offset":0.96235,"color":"#414042"},{"offset":0.96235,"color":"#C7C8CA"},{"offset":1,"color":"#C7C8CA"}]}},
    "encoding":{"y":{"field":"lo","type":"quantitative","scale":{"domain":[0,7],"nice":false},"axis":null},"y2":{"field":"hi"}}},
   {"data":{"name":"bandD"},"transform":[{"filter":"datum.k==='T- V+'"}],"mark":{"type":"rule","color":"#A1A3A6","strokeWidth":8},"encoding":{"y":{"field":"mid","type":"quantitative","scale":{"domain":[0,7],"nice":false},"axis":null}}},
   {"data":{"values":[{}]},"mark":{"type":"rule","color":"#231F20","strokeWidth":5},"encoding":{"x":{"datum":"_gap","type":"nominal","bandPosition":0.5,"scale":{"type":"band","domain":["G_1","_gap","G_2"],"paddingInner":0.28,"paddingOuter":0.67},"axis":null}}},
   {"data":{"name":"barsD"},"mark":{"type":"bar","fillOpacity":0.85,"stroke":"#000000","strokeWidth":10},
    "encoding":{"x":{"field":"key","type":"nominal","scale":{"type":"band","domain":["G_1","_gap","G_2"],"paddingInner":0.28,"paddingOuter":0.67},
      "axis":{"orient":"bottom","zindex":1,"title":null,"ticks":false,"domain":true,"domainColor":"#6D6E71","domainWidth":4,"labelExpr":"split(datum.value,'_')[0]","labelAngle":0,"labelFont":"Inter","labelFontSize":80,"labelColor":"#231F20","labelPadding":36,"labelOverlap":false,"labelLimit":1000}},
     "y":{"field":"mean","type":"quantitative","scale":{"domain":[0,7],"nice":false},
      "axis":{"orient":"left","zindex":1,"title":"RMSE [cm]","titleFont":"Lato","titleFontSize":82,"titleFontWeight":"normal","titleColor":"#231F20","titlePadding":80,"values":[0,1,2,3,4,5,6,7],"labelFont":"Inter","labelFontSize":80,"labelColor":"#231F20","labelPadding":39,"labelFlush":false,"labelOverlap":false,"ticks":false,"domainColor":"#231F20","domainWidth":4,"grid":false}},
     "fill":{"field":"tactile","type":"nominal","scale":{"domain":["T+ (State)","T+ (Error)"],"range":["#F3901F","#00A9DF"]},"legend":null}}},
   {"data":{"name":"barsD"},"mark":{"type":"rule","color":"#000000","strokeWidth":10},
    "encoding":{"x":{"field":"key","type":"nominal","bandPosition":0.5,"scale":{"type":"band","domain":["G_1","_gap","G_2"],"paddingInner":0.28,"paddingOuter":0.67},
      "axis":{"orient":"top","title":null,"ticks":false,"domain":false,"labelExpr":"datum.value==='G_1'?'Day1':datum.value==='G_2'?'Day2':''","labelAngle":0,"labelFont":"Inter","labelFontSize":88,"labelFontWeight":500,"labelColor":"#231F20","labelPadding":63,"labelBaseline":"alphabetic","labelOverlap":false,"labelLimit":1000}},
     "y":{"field":"lo","type":"quantitative","scale":{"domain":[0,7],"nice":false},"axis":null},"y2":{"field":"hi"}}}
  ]}
]}
]
}
